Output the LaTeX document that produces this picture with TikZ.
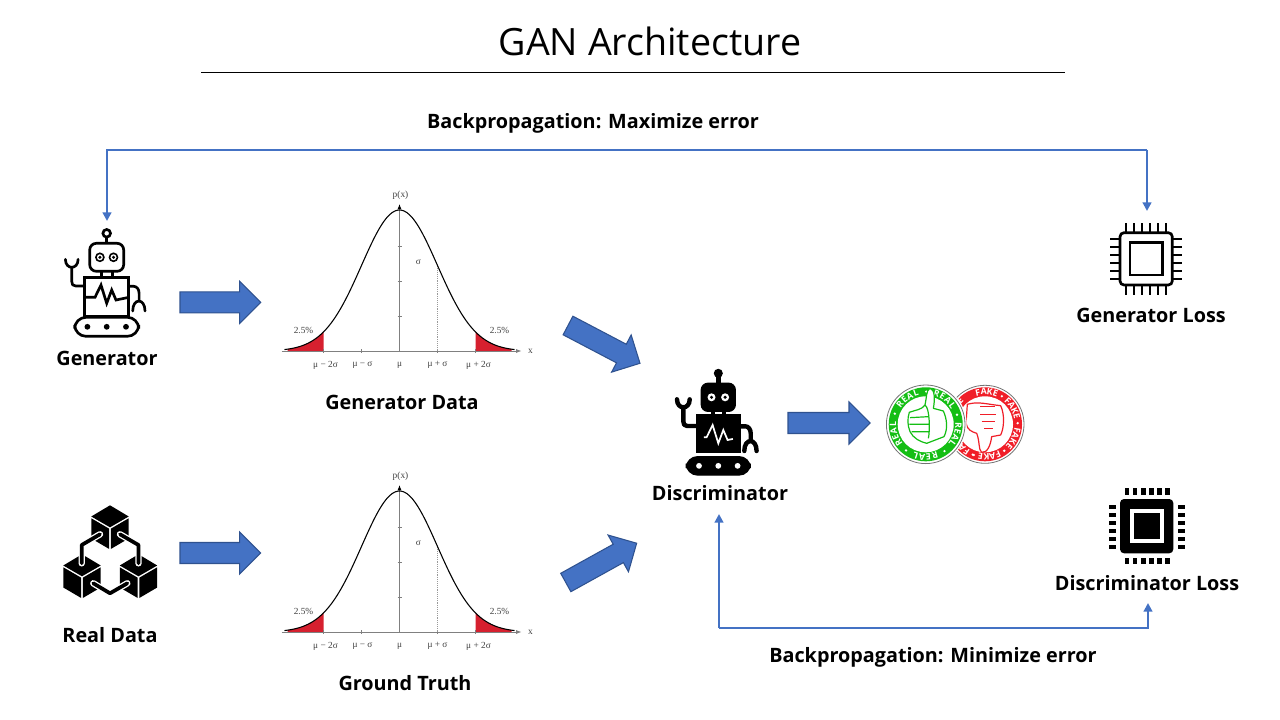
\documentclass[tikz,border=0pt]{standalone}
\usepackage{fontspec}
\setmainfont{Open Sans}
\newfontfamily\curvefont{Liberation Serif}
\usetikzlibrary{arrows.meta}
\definecolor{flowblue}{RGB}{68,114,196}
\definecolor{blockedge}{RGB}{47,82,143}
\definecolor{tailred}{RGB}{214,32,47}
\definecolor{realgreen}{RGB}{20,190,20}
\definecolor{fakered}{RGB}{240,30,40}

\tikzset{every picture/.style={line width=0.75pt}}
\tikzset{
	caption/.style={font=\fontsize{14.85}{17}\bfseries\selectfont,inner sep=0pt,anchor=base},
	feedback/.style={draw=flowblue,line width=2.1pt,-{Triangle[length=6.5pt,width=6.5pt]}},
	blockshape/.style={fill=flowblue,draw=blockedge,line width=0.8pt,line join=miter},
	curvetext/.style={font=\curvefont\fontsize{7}{8}\selectfont,text=black!75,inner sep=0pt},
	ringletter/.style={text=white,font=\fontsize{6.6}{7}\bfseries\selectfont,inner sep=0pt},
	flip/.style={yscale=-1},
	robot line/.style={draw=black,line width=2pt},
	robot body/.style={draw=black,line width=2pt},
	robot eye/.style={draw=black,fill=white,line width=1.2pt},
	robot hole/.style={fill=black},
	robot zag/.style={draw=black,line width=2pt},
	chip pin/.style={draw=black,line width=1.6pt},
	%block arrow, origin at the middle of its tail
	pics/blockarrow/.style={code={
		\draw [blockshape] (0,-10.5) -- (#1-21,-10.5) -- (#1-21,-21) -- (#1,0) -- (#1-21,21) -- (#1-21,10.5) -- (0,10.5) -- cycle;
	}},
	%bell curve with its axes and labels
	pics/bell/.style={code={
		\fill [tailred] plot [domain=-112:-76,samples=20] ({\x},{-141*exp(-0.5*(\x/38)^2)}) -- (-76,0) -- (-112,0) -- cycle;
		\fill [tailred] plot [domain=76:112,samples=20] ({\x},{-141*exp(-0.5*(\x/38)^2)}) -- (112,0) -- (76,0) -- cycle;
		\draw [black!50,line width=0.5pt,-{Latex[length=4pt,width=3pt]}] (-118,0) -- (122,0);
		\draw [black!50,line width=0.5pt,-{Latex[length=4pt,width=3pt,black]}] (0,0) -- (0,-147);
		\foreach \tick in {-76,-38,38,76} \draw [black!50,line width=0.4pt] (\tick,-2) -- (\tick,2);
		\foreach \tick in {-35,-70,-105} \draw [black!50,line width=0.4pt] (-2,\tick) -- (2,\tick);
		\draw [black!40,line width=0.4pt,densely dotted] (38,0) -- (38,-85);
		\draw [black,line width=0.8pt] plot [domain=-115:115,samples=80,smooth] ({\x},{-141*exp(-0.5*(\x/38)^2)});
		\node [curvetext] (-pa) at (1,-156) {p(x)};
		\node [curvetext] (-sa) at (19,-89) {σ};
		\node [curvetext] (-ta) at (-96,-21) {2.5\%};
		\node [curvetext] (-tb) at (100,-21) {2.5\%};
		\node [curvetext] (-xa) at (131,0) {x};
		\node [curvetext] (-la) at (-74,14) {μ − 2σ};
		\node [curvetext] (-lb) at (-37,14) {μ − σ};
		\node [curvetext] (-lc) at (0,14) {μ};
		\node [curvetext] (-ld) at (38,14) {μ + σ};
		\node [curvetext] (-le) at (79,14) {μ + 2σ};
	}},
	%robot, origin at the middle of the antenna ball; #1 #2 body top and foot, #3 #4 tracks top and foot
	pics/robot/.style n args={4}{code={
		\draw [robot line,line cap=round,line join=round] (-22,52.7) -- (-31,52.7) .. controls (-34,52.7) and (-35,51) .. (-35,48) -- (-35,34);
		\draw [robot line,line cap=round] (-41.3,26) .. controls (-41.3,36.7) and (-28.6,36.7) .. (-28.6,26);
		\draw [robot line,line join=round] (22,53) -- (27,53) .. controls (30,53) and (32.4,56) .. (32.4,60) -- (32.4,68);
		\draw [robot line,line cap=round] (26,77.7) .. controls (26,64.5) and (38.3,64.5) .. (38.3,77.7);
		\draw [robot line] (-5.5,37) -- (-5.5,#1) (5.5,37) -- (5.5,#1) (0,4) -- (0,10);
		\draw [robot body] (0,0) circle (3.8);
		\draw [robot body,rounded corners=5pt] (-17,10) rectangle (17,38);
		\draw [robot eye] (-6.8,24) circle (4) (6.8,24) circle (4);
		\fill [black] (-6.8,24) circle (1.7) (6.8,24) circle (1.7);
		\draw [robot body] (-22,#1) rectangle (22,#2);
		\draw [robot zag,line join=miter] (-22.4,64) -- (-11.7,64) -- (-5.7,51.7) -- (0,70) -- (5,56.7) -- (9.3,66.7) -- (22.4,64);
		\draw [robot body,rounded corners=8.5pt] (-32,#3) rectangle (32,#4);
		\fill [robot hole] (-19.3,{(#3+#4)/2}) circle (2.9) (0,{(#3+#4)/2}) circle (2.9) (19.3,{(#3+#4)/2}) circle (2.9);
	}},
	%one isometric block of the data icon
	pics/cube/.style={code={
		\fill [black] (0,-22.7) -- (18.7,-11.5) -- (0,-0.7) -- (-18.7,-11.5) -- cycle;
		\fill [black] (-18.7,-9.7) -- (-0.8,0.7) -- (-0.8,21) -- (-18.7,10.5) -- cycle;
		\fill [black] (18.7,-9.7) -- (0.8,0.7) -- (0.8,21) -- (18.7,10.5) -- cycle;
	}},
}
% #1 letters, #2 name, #3 group angles, #4 letter step, #5 way to the dot
\newcommand{\ringtext}[5]{%
	\foreach \g [count=\n] in {#3} {
		\foreach \ch [count=\i] in {#1} {
			\pgfmathsetmacro{\ang}{\g-(\i-2.5)*#4}
			\node [ringletter,rotate=\ang-90] (#2-\n-\i) at ({32.7*cos(\ang)},{-32.7*sin(\ang)}) {\ch};
		}
		\pgfmathsetmacro{\ang}{\g-#5}
		\fill [white] ({32.7*cos(\ang)},{-32.7*sin(\ang)}) circle (1.3);
	}%
}

\begin{document}
\begin{tikzpicture}[x=0.75pt,y=0.75pt,yscale=-1,xscale=1]
	\useasboundingbox (0,0) rectangle (1280,720);

	% Title
	\node [inner sep=0pt,font=\fontsize{28.2}{32}\selectfont] (title) at (650,41.5) {GAN Architecture};
	\coordinate (ruleL) at (201,72.5);
	\coordinate (ruleR) at (1065,72.5);
	\draw [black,line width=0.75pt] (ruleL) -- (ruleR);

	% Robots
	\pic [flip] (generator) at (106.7,233.3) {robot={44.5}{82.7}{84}{103}};
	\pic [flip,robot line/.style={draw=black,line width=3.3pt},
		robot body/.style={draw=black,fill=black,line width=1pt},
		robot eye/.style={fill=white,draw=none},
		robot hole/.style={fill=white},
		robot zag/.style={draw=white,line width=1.3pt,shorten <=6pt,shorten >=6pt}] (discriminator) at (718.3,373.3) {robot={41.7}{79}{83.4}{101.7}};

	% Curves
	\pic [flip] (gendata) at (399.5,351) {bell};
	\pic [flip] (truth) at (399.5,632) {bell};

	% Data icon
	\pic [flip] (cubeA) at (110,528) {cube};
	\pic [flip] (cubeB) at (82,577) {cube};
	\pic [flip] (cubeC) at (138.5,577) {cube};
	\draw [white,line width=4.8pt,line cap=round,line join=round]
		(100,534.3) -- (81.7,545) -- (81.7,563.3)
		(120,534.3) -- (138.5,545) -- (138.5,563.3)
		(93.3,583.3) -- (110,593.3) -- (127.3,583.3);
	\draw [black,line width=2.8pt,line cap=round,line join=round]
		(100,534.3) -- (81.7,545) -- (81.7,563.3)
		(120,534.3) -- (138.5,545) -- (138.5,563.3)
		(93.3,583.3) -- (110,593.3) -- (127.3,583.3);

	% Chips
	\draw [black,line width=2pt,rounded corners=3pt] (1120,232.7) rectangle (1172.3,285);
	\draw [black,line width=2pt] (1130,242.7) rectangle (1162.3,275);
	\foreach \pin in {0,...,5} {
		\draw [chip pin] (1125.7+\pin*8.05,223.3) -- (1125.7+\pin*8.05,232.7);
		\draw [chip pin] (1125.7+\pin*8.05,285) -- (1125.7+\pin*8.05,295);
		\draw [chip pin] (1110,238.7+\pin*8.05) -- (1120,238.7+\pin*8.05);
		\draw [chip pin] (1172.3,238.7+\pin*8.05) -- (1182,238.7+\pin*8.05);
	}
	\fill [black,rounded corners=3pt] (1120,499) rectangle (1173.3,553.3);
	\fill [white] (1130,509) rectangle (1164,543.3);
	\fill [black] (1134.3,513.3) rectangle (1160,539);
	\foreach \pin in {0,...,5} {
		\fill [black] (1125+\pin*8.05,488.3) rectangle +(4.4,6.7);
		\fill [black] (1125+\pin*8.05,557.7) rectangle +(4.4,6.7);
		\fill [black] (1109,505+\pin*8.05) rectangle +(7,4.2);
		\fill [black] (1177.7,505+\pin*8.05) rectangle +(7,4.2);
	}

	% Badges
	\begin{scope}[shift={(985,424.3)}]
		\draw [black!55,fill=white,line width=0.6pt] (0,0) circle (39);
		\fill [fakered] (0,0) circle (37);
		\fill [white] (0,0) circle (28);
		\ringtext{F,A,K,E}{fake}{87,30,-26,-82}{10.5}{28}
		\ringtext{F,A}{fakeLow}{-140}{10.5}{-28}
		\node [ringletter,rotate=46] (fakeTop) at (-25,-24) {E};
	\end{scope}
	\begin{scope}[shift={(880,375)},scale=0.3333]
		\draw [fakered,line width=0.9pt,line join=round,fill=white]
			(262,88) .. controls (290,80) and (310,85) .. (345,90) -- (362,92)
			.. controls (375,120) and (372,160) .. (362,180) -- (335,185)
			.. controls (332,210) and (322,235) .. (305,232) .. controls (295,225) and (300,200) .. (290,175)
			.. controls (275,170) and (262,165) .. (258,145) -- cycle;
		\draw [fakered,line width=0.9pt,line join=round] (300,95) -- (345,95) (300,118) -- (348,118) (305,140) -- (345,140) (312,160) -- (340,160);
	\end{scope}
	\begin{scope}[shift={(925.7,424.3)}]
		\fill [white] (0,0) circle (41);
		\draw [black!55,fill=white,line width=0.6pt] (0,0) circle (39.3);
		\fill [realgreen] (0,0) circle (37);
		\fill [white] (0,0) circle (28);
		\ringtext{R,E,A,L}{real}{125,53,-19,-91,-163}{11.5}{36}
	\end{scope}
	\begin{scope}[shift={(880,375)},scale=0.3333]
		\draw [realgreen,line width=0.9pt,line join=round,fill=white]
			(88,112) .. controls (105,105) and (125,105) .. (135,90)
			.. controls (140,70) and (138,45) .. (150,40) .. controls (165,42) and (165,75) .. (160,100)
			-- (190,108) .. controls (200,130) and (205,160) .. (192,185) -- (140,205)
			.. controls (120,200) and (100,190) .. (90,170) .. controls (82,150) and (82,130) .. (88,112) -- cycle;
		\draw [realgreen,line width=0.9pt] (90,128) -- (145,125) (88,148) -- (148,148) (95,170) -- (145,170) (135,90) .. controls (150,100) and (150,170) .. (145,190);
	\end{scope}

	% Block arrows
	\pic (arrowA) at (180,302.3) {blockarrow=80.7};
	\pic (arrowB) at (180,553) {blockarrow=80.7};
	\pic [rotate=-27.7] (arrowC) at (568,325.5) {blockarrow=81.3};
	\pic [rotate=29] (arrowD) at (565.8,582.5) {blockarrow=81};
	\pic (arrowE) at (788,423) {blockarrow=82};

	% Captions
	\node [caption] (generatorText) at (107,365) {Generator};
	\node [caption] (gendataText) at (402,409) {Generator Data};
	\node [caption] (realText) at (110,642) {Real Data};
	\node [caption] (truthText) at (405,690) {Ground Truth};
	\node [caption] (discText) at (720,500) {Discriminator};
	\node [caption] (genlossText) at (1151,322) {Generator Loss};
	\node [caption] (dislossText) at (1147,590) {Discriminator Loss};
	\node [caption] (maxText) at (593,128.5) {Backpropagation: Maximize error};
	\node [caption] (minText) at (933,662) {Backpropagation: Minimize error};

	% Feedback lines
	\coordinate (genTop) at (107,221);
	\coordinate (chipTop) at (1147,211);
	\coordinate (forkL) at (107,150);
	\coordinate (forkR) at (1147,150);
	\coordinate (discFoot) at (719,514);
	\coordinate (chipFoot) at (1148,603);
	\coordinate (baseL) at (719,628);
	\coordinate (baseR) at (1148,628);
	\draw [feedback] (forkR) -- (forkL) -- (genTop);
	\draw [feedback] (forkR) -- (chipTop);
	\draw [feedback] (baseL) -- (discFoot);
	\draw [feedback] (baseL) -- (baseR) -- (chipFoot);
\end{tikzpicture}
\end{document}
